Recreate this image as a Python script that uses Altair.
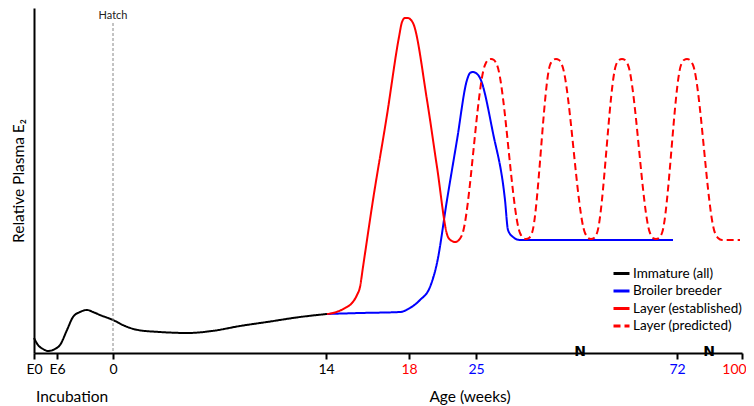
import altair as alt
import pandas as pd

# Horizontal position along the broken age axis (units = distance from the y-axis),
# vertical value = relative plasma E2 (arbitrary units).
immature_x = [0, 4, 9, 14, 21, 26, 33, 39, 46, 53, 59, 66, 79, 91, 104, 126, 154, 178, 206, 233, 266, 293]
immature_y = [15, 8, 4, 2, 4, 8, 23, 36, 41, 43, 41, 38, 33, 27, 23, 21, 20, 22, 27, 31, 36, 39]

broiler_x = [293, 326, 366, 376, 386, 396, 403, 413, 423, 433, 436, 439, 442, 446, 459, 471, 474, 479, 486, 500, 639]
broiler_y = [39, 40, 41, 45, 53, 66, 90, 153, 213, 273, 280, 281, 280, 275, 220, 153, 123, 116, 113, 113, 113]

layer_est_x = [293, 299, 311, 318, 323, 326, 329, 339, 353, 365, 368, 371, 374, 377, 379, 393, 403, 414, 418, 421, 424]
layer_est_y = [39, 40, 45, 50, 58, 66, 86, 153, 238, 316, 331, 335, 335, 333, 330, 253, 186, 116, 112, 111, 112]

layer_pred_x = [424, 428, 451, 454, 457, 460, 463, 486, 489, 492, 495, 498,
                516, 519, 522, 525, 528, 551, 554, 557, 560, 563,
                582, 585, 588, 591, 594, 616, 619, 622, 625, 628,
                647, 650, 653, 656, 659, 681, 684, 688, 706]
layer_pred_y = [112, 118, 288, 293, 294, 293, 288, 120, 115, 114, 115, 120,
                288, 293, 294, 293, 288, 120, 115, 114, 115, 120,
                288, 293, 294, 293, 288, 120, 115, 114, 115, 120,
                288, 293, 294, 293, 288, 120, 115, 113, 113]

series_names = ["Immature (all)", "Broiler breeder", "Layer (established)", "Layer (predicted)"]
series_colors = ["#000000", "#0000ff", "#ff0000", "#ff0000"]
series_dashes = [[1, 0], [1, 0], [1, 0], [7, 4]]

tick_pos = [0, 23, 79, 292, 375, 442, 643, 708]
tick_labels = ["E0", "E6", "0", "14", "18", "25", "72", "100"]
tick_colors = ["black", "black", "black", "black", "#ff0000", "#0000ff", "#0000ff", "#ff0000"]

hatch_pos = [79]
hatch_label = ["Hatch"]
caption_pos = [2, 436]
caption_text = ["Incubation", "Age (weeks)"]
caption_align = ["left", "center"]
break_pos = [546, 675]

FONT = "Lato"

rows = []
for name, xs, ys in zip(series_names,
                        [immature_x, broiler_x, layer_est_x, layer_pred_x],
                        [immature_y, broiler_y, layer_est_y, layer_pred_y]):
    for xv, yv in zip(xs, ys):
        rows.append({"series": name, "pos": xv, "level": yv})
df = pd.DataFrame(rows)

label_expr = ""
for p, l in zip(tick_pos, tick_labels):
    label_expr += f"datum.value == {p} ? '{l}' : "
label_expr += "''"

color_conditions = [{"test": f"datum.value == {p}", "value": c}
                    for p, c in zip(tick_pos, tick_colors) if c != "black"]

xscale = alt.Scale(domain=[0, 708], nice=False, zero=False)

legend_cfg = dict(title=None, orient="none", legendX=578, legendY=256,
                  symbolType="stroke", symbolSize=256, symbolStrokeWidth=3,
                  labelFontSize=13.5, labelFont=FONT, labelColor="black",
                  labelLimit=300, rowPadding=1.5, labelOffset=2)

lines = alt.Chart(df).mark_line(strokeWidth=2, interpolate="monotone").encode(
    x=alt.X("pos:Q", scale=xscale,
            axis=alt.Axis(values=tick_pos, labelExpr=label_expr, title=None, grid=False,
                          domainColor="black", domainWidth=2, tickColor="black",
                          tickWidth=2, tickSize=6, labelFontSize=14, labelFont=FONT,
                          labelColor={"condition": color_conditions, "value": "black"},
                          labelOffset={"condition": {"test": "datum.value == 708", "value": -8}, "value": 0},
                          labelPadding=3, labelFlush=False, labelOverlap=False)),
    y=alt.Y("level:Q", scale=alt.Scale(domain=[0, 345], nice=False),
            axis=alt.Axis(title="Relative Plasma E\u2082", labels=False, ticks=False,
                          grid=False, domainColor="black", domainWidth=2,
                          titleFontSize=15.5, titleFont=FONT, titleFontWeight="normal",
                          titleColor="black", titlePadding=8)),
    color=alt.Color("series:N", scale=alt.Scale(domain=series_names, range=series_colors),
                    legend=alt.Legend(**legend_cfg)),
    strokeDash=alt.StrokeDash("series:N", scale=alt.Scale(domain=series_names, range=series_dashes),
                              legend=alt.Legend(**legend_cfg)),
)

hatch_df = pd.DataFrame({"pos": hatch_pos, "label": hatch_label})
hatch_rule = alt.Chart(hatch_df).mark_rule(color="#888888", strokeDash=[3, 2], strokeWidth=1).encode(
    x=alt.X("pos:Q", title=None), y=alt.value(15), y2=alt.value(345)
)
hatch_text = alt.Chart(hatch_df).mark_text(baseline="top", fontSize=11, font=FONT, color="#222222").encode(
    x=alt.X("pos:Q", title=None), y=alt.value(2), text="label:N"
)

cap_df = pd.DataFrame({"pos": caption_pos, "text": caption_text, "align": caption_align})
cap_left = alt.Chart(cap_df[cap_df["align"] == "left"]).mark_text(
    align="left", baseline="middle", fontSize=15.5, font=FONT, color="black").encode(
    x=alt.X("pos:Q", title=None), y=alt.value(389), text="text:N")
cap_center = alt.Chart(cap_df[cap_df["align"] == "center"]).mark_text(
    align="center", baseline="middle", fontSize=15.5, font=FONT, color="black").encode(
    x=alt.X("pos:Q", title=None), y=alt.value(389), text="text:N")

brk_df = pd.DataFrame({"pos": break_pos, "t": ["N"] * len(break_pos)})
breaks = alt.Chart(brk_df).mark_text(
    baseline="middle", align="center", fontSize=14, fontWeight="bold", font="DejaVu Sans", color="black").encode(
    x=alt.X("pos:Q", title=None), y=alt.value(344), text="t:N")

chart = alt.layer(lines, hatch_rule, hatch_text, cap_left, cap_center, breaks).properties(
    width=708, height=345,
    autosize=alt.AutoSizeParams(type="none"),
    padding={"left": 26, "top": 0, "right": 4, "bottom": 53},
    background="white",
).configure_view(stroke=None)

chart.save("out.html", embed_options={"renderer": "svg", "actions": False})
